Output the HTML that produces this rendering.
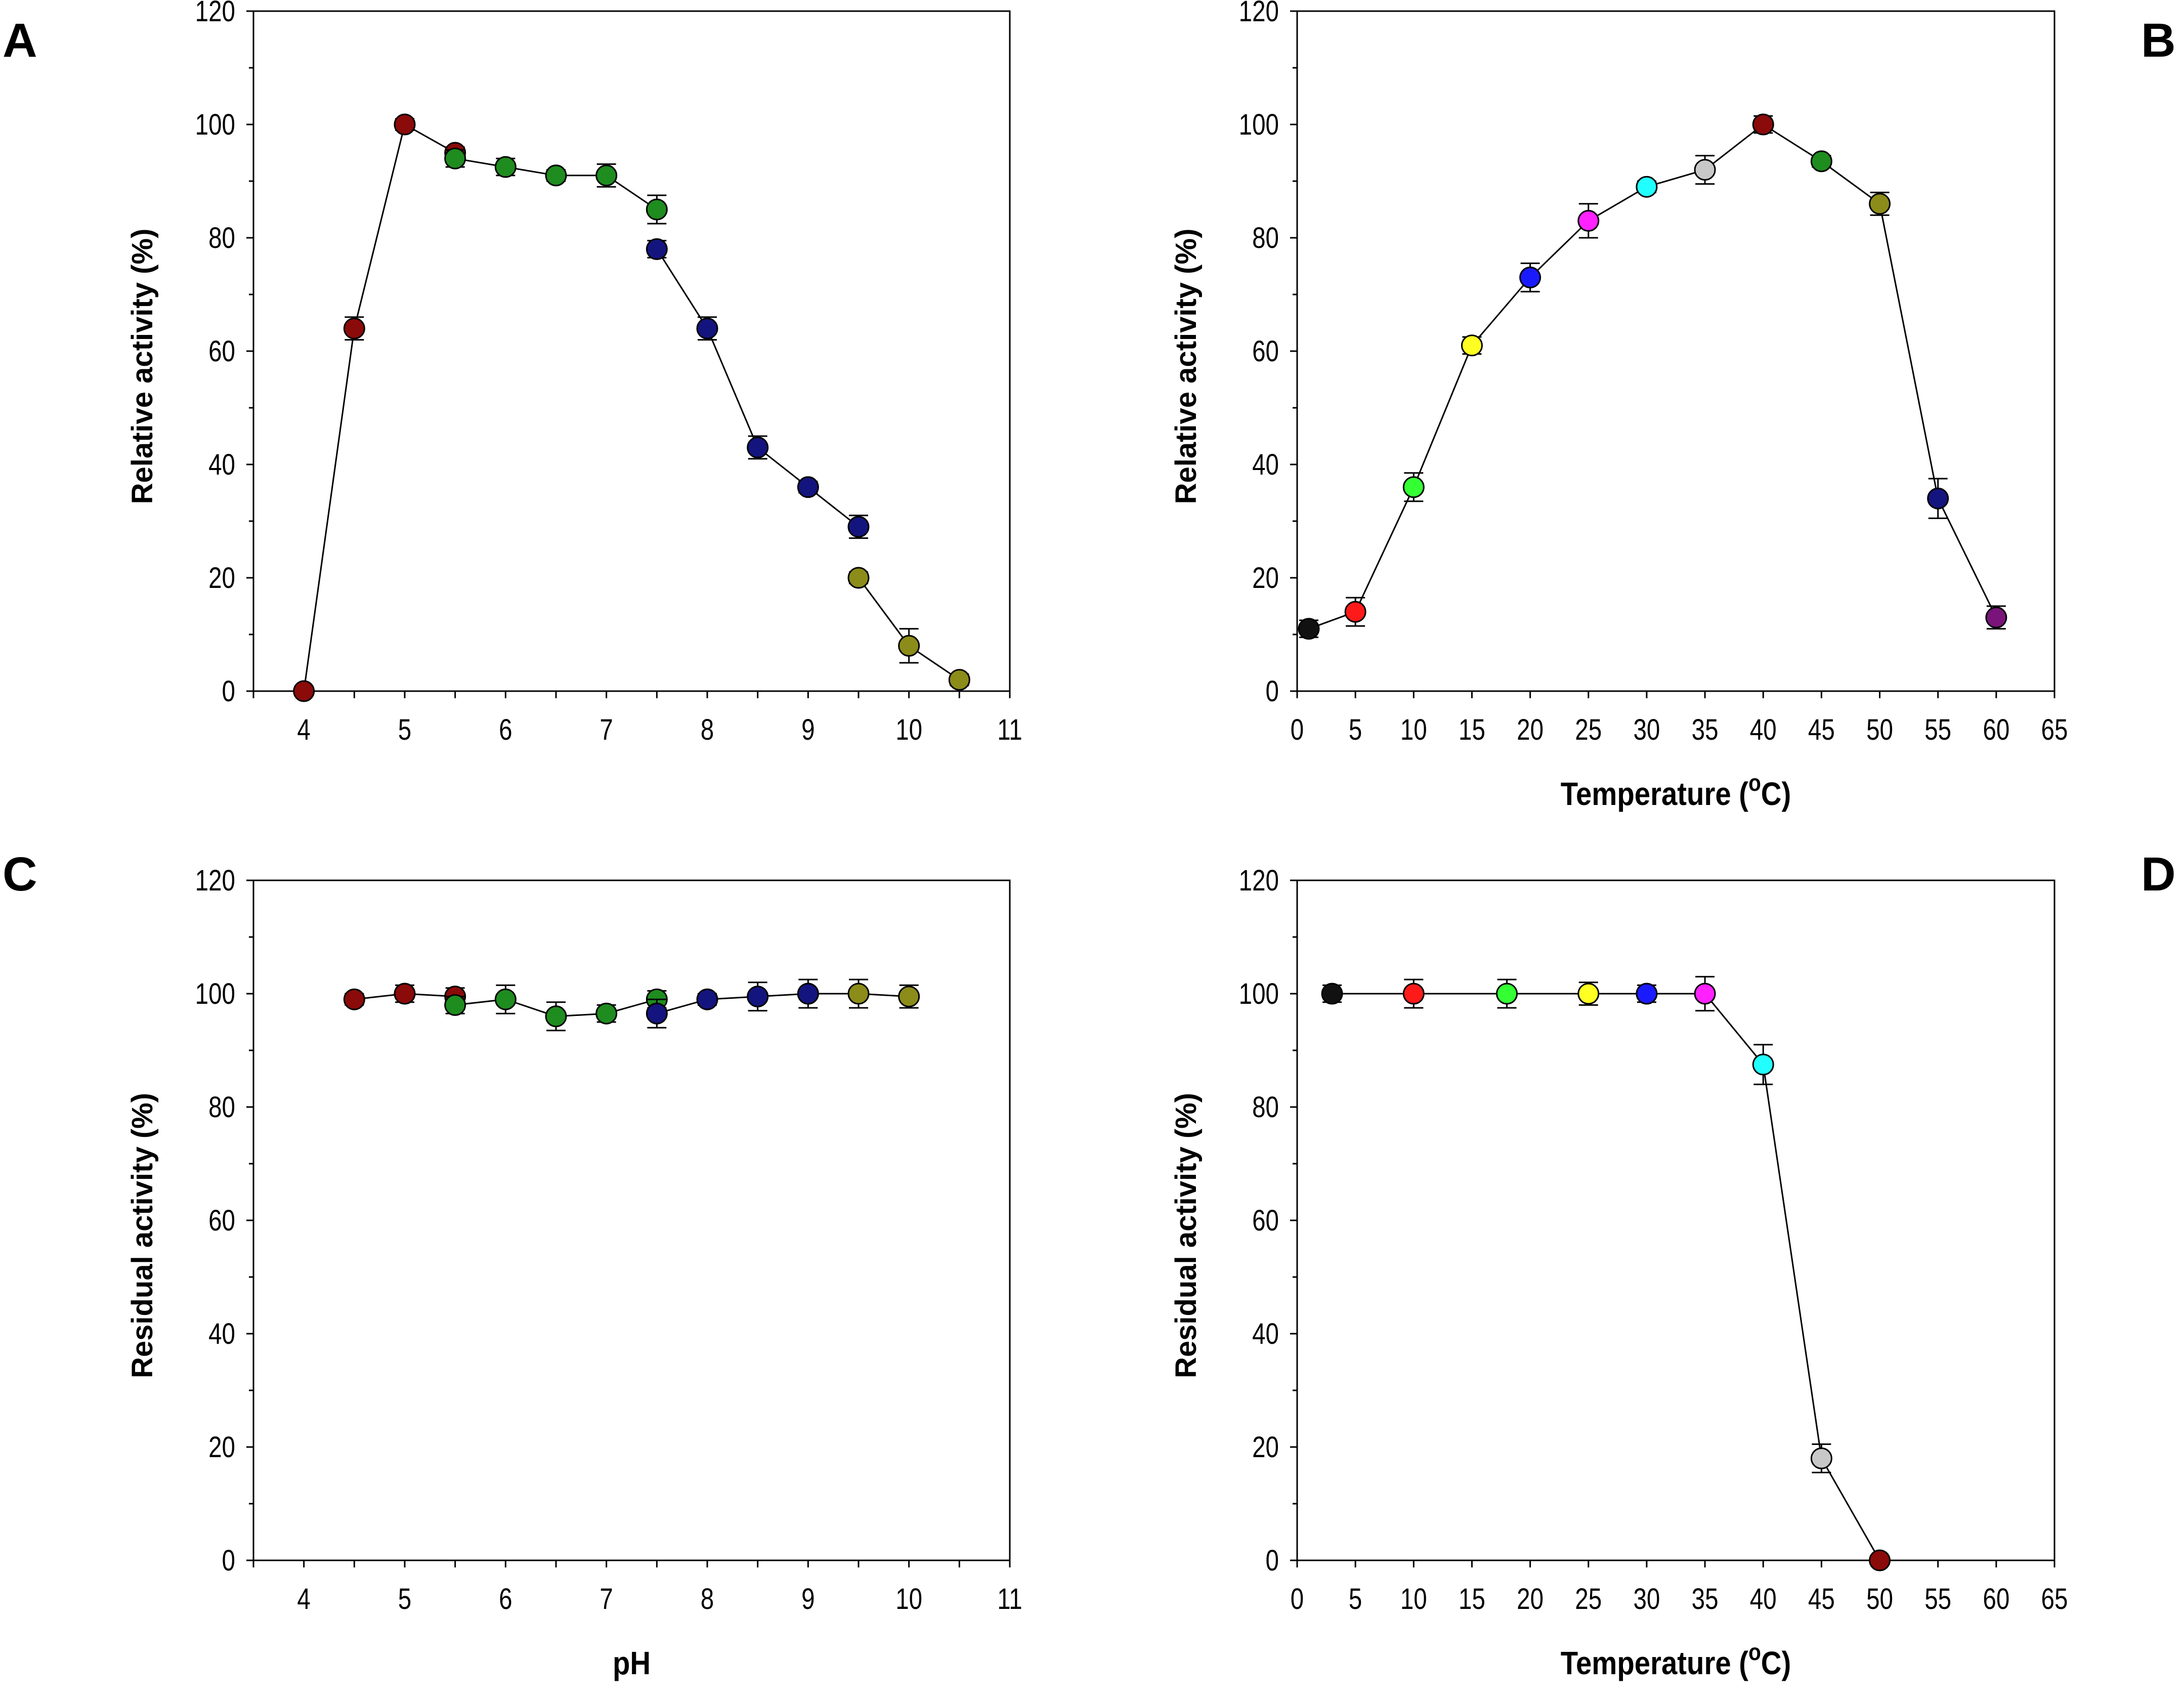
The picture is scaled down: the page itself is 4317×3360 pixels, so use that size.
<!DOCTYPE html>
<html><head><meta charset="utf-8">
<style>
html,body{margin:0;padding:0;background:#fff;}
svg{display:block;}
text{font-family:"Liberation Sans",Arial,sans-serif;fill:#000;}
</style></head>
<body>
<svg id="fig" width="4317" height="3360" viewBox="0 0 4317 3360" xmlns="http://www.w3.org/2000/svg"></svg>
<script>
// ---------- Panel A data (pH activity) ----------
const aRedX=[4,4.5,5,5.5];           const aRedY=[0,64,100,95];      const aRedE=[0,2,1,1];
const aGreenX=[5.5,6,6.5,7,7.5];     const aGreenY=[94,92.5,91,91,85]; const aGreenE=[1.5,1.5,1,2,2.5];
const aBlueX=[7.5,8,8.5,9,9.5];      const aBlueY=[78,64,43,36,29];  const aBlueE=[1.5,2,2,1,2];
const aOliveX=[9.5,10,10.5];         const aOliveY=[20,8,2];         const aOliveE=[1,3,1];
// ---------- Panel B data (temperature activity) ----------
const bX=[1,5,10,15,20,25,30,35,40,45,50,55,60];
const bY=[11,14,36,61,73,83,89,92,100,93.5,86,34,13];
const bE=[1.5,2.5,2.5,1.5,2.5,3,1,2.5,1.5,1,2,3.5,2];
const bColors=["#111111","#ff1a1a","#33ff33","#ffff22","#1a1aff","#ff22ff","#22ffff","#c8c8c8","#8b0a0a","#1e8c1e","#8c8c1a","#14147f","#7a147a"];
// ---------- Panel C data (pH stability) ----------
const cRedX=[4.5,5,5.5];            const cRedY=[99,100,99.5];       const cRedE=[1,1.5,1.5];
const cGreenX=[5.5,6,6.5,7,7.5];    const cGreenY=[98,99,96,96.5,99]; const cGreenE=[1.5,2.5,2.5,1.5,1.5];
const cBlueX=[7.5,8,8.5,9];         const cBlueY=[96.5,99,99.5,100];  const cBlueE=[2.5,1,2.5,2.5];
const cOliveX=[9,9.5,10];           const cOliveY=[100,100,99.5];     const cOliveE=[0,2.5,2];
// ---------- Panel D data (temperature stability) ----------
const dX=[3,10,18,25,30,35,40,45,50];
const dY=[100,100,100,100,100,100,87.5,18,0];
const dE=[1.5,2.5,2.5,2,1.5,3,3.5,2.5,0];
const dColors=["#111111","#ff1a1a","#33ff33","#ffff22","#1a1aff","#ff22ff","#22ffff","#c8c8c8","#8b0a0a"];
const yTicks=[0,20,40,60,80,100,120];
const pHTicks=[4,5,6,7,8,9,10,11];
const tTicks=[0,5,10,15,20,25,30,35,40,45,50,55,60,65];

const NS="http://www.w3.org/2000/svg";
const svg=document.getElementById('fig');
function mk(tag,attrs,parent){const e=document.createElementNS(NS,tag);for(const k in attrs)e.setAttribute(k,attrs[k]);(parent||svg).appendChild(e);return e;}

function panel(cfg){
  const g=mk('g',{});
  
  
  const sx=v=>cfg.x0+(v-cfg.xmin)/(cfg.xmax-cfg.xmin)*(cfg.x1-cfg.x0);
  const sy=v=>cfg.yb-(v-0)/120*(cfg.yb-cfg.yt);
  const frame=mk('rect',{x:cfg.x0,y:cfg.yt,width:cfg.x1-cfg.x0,height:cfg.yb-cfg.yt,fill:'none',stroke:'#000','stroke-width':3},g);
  
  
  for(let v=0;v<=120;v+=10){
    const major=v%20===0;
    mk('line',{x1:cfg.x0,x2:cfg.x0-(major?14:9),y1:sy(v),y2:sy(v),stroke:'#000','stroke-width':3},g);
  }
  yTicks.forEach(v=>{
    const tx=cfg.x0-36;
    const t=mk('text',{x:tx,y:sy(v)+20,'text-anchor':'end','font-size':58,transform:`translate(${tx},0) scale(0.82,1) translate(${-tx},0)`},g);
    t.textContent=v;
    
    
  });
  for(let v=cfg.xmin;v<=cfg.xmax+1e-9;v+=cfg.minor){
    mk('line',{x1:sx(v),x2:sx(v),y1:cfg.yb,y2:cfg.yb+14,stroke:'#000','stroke-width':3},g);
  }
  cfg.xt.forEach(v=>{
    const cx=sx(v);
    const t=mk('text',{x:cx,y:cfg.yb+96,'text-anchor':'middle','font-size':58,transform:`translate(${cx},0) scale(0.82,1) translate(${-cx},0)`},g);
    t.textContent=v;
    
    
  });
  const cyT=(cfg.yt+cfg.yb)/2+30, cxT=cfg.x0-200;
  const yt=mk('text',{x:cxT,y:cyT,'text-anchor':'middle','font-size':58,'font-weight':'bold',transform:`rotate(-90 ${cxT} ${cyT})`},g);
  yt.textContent=cfg.ytitle;
  
  
  if(cfg.xtitle){
    const xc=(cfg.x0+cfg.x1)/2;
    const xt=mk('text',{x:xc,y:cfg.yb+225,'text-anchor':'middle','font-size':64,'font-weight':'bold',transform:`translate(${xc},0) scale(0.88,1) translate(${-xc},0)`},g);
    if(cfg.xtitle==='T'){
      xt.appendChild(document.createTextNode('Temperature ('));
      const s=mk('tspan',{dy:-28,'font-size':46},xt);s.textContent='o';
      const s2=mk('tspan',{dy:28},xt);s2.textContent='C)';
    } else xt.textContent=cfg.xtitle;
    
    
  }
  const L=mk('text',{x:cfg.lx,y:cfg.ly,'font-size':95,'font-weight':'bold'},g);
  L.textContent=cfg.letter;
  
  
  return {g,sx,sy};
}

function series(p,xs,ys,es,colors,name){
  const pts=xs.map((x,i)=>p.sx(x)+','+p.sy(ys[i])).join(' ');
  const pl=mk('polyline',{points:pts,fill:'none',stroke:'#000','stroke-width':3},p.g);
  
  
  xs.forEach((x,i)=>{
    const cx=p.sx(x), y=p.sy(ys[i]);
    if(es[i]>0){
      const ylo=p.sy(ys[i]-es[i]), yhi=p.sy(ys[i]+es[i]);
      const eg=mk('g',{stroke:'#000','stroke-width':3},p.g);
      
      
      mk('line',{x1:cx,x2:cx,y1:ylo,y2:yhi},eg);
      mk('line',{x1:cx-19,x2:cx+19,y1:ylo,y2:ylo},eg);
      mk('line',{x1:cx-19,x2:cx+19,y1:yhi,y2:yhi},eg);
    }
    const c=mk('circle',{cx:cx,cy:y,r:20,fill:Array.isArray(colors)?colors[i]:colors,stroke:'#000','stroke-width':3},p.g);
    
    
  });
}

const RED="#8b0a0a",GREEN="#1e8c1e",BLUE="#14147f",OLIVE="#8c8c1a";
const A=panel({name:'panel-a-ph-activity',x0:501,x1:1996,yt:22,yb:1366,xmin:3.5,xmax:11,minor:0.5,xt:pHTicks,ytitle:'Relative activity (%)',xtitle:null,letter:'A',lx:5,ly:112});
series(A,aRedX,aRedY,aRedE,RED,'red-series');
series(A,aGreenX,aGreenY,aGreenE,GREEN,'green-series');
series(A,aBlueX,aBlueY,aBlueE,BLUE,'blue-series');
series(A,aOliveX,aOliveY,aOliveE,OLIVE,'olive-series');

const B=panel({name:'panel-b-temperature-activity',x0:2564,x1:4061,yt:22,yb:1366,xmin:0,xmax:65,minor:5,xt:tTicks,ytitle:'Relative activity (%)',xtitle:'T',letter:'B',lx:4232,ly:112});
series(B,bX,bY,bE,bColors,'temperature-series');

const C=panel({name:'panel-c-ph-stability',x0:501,x1:1996,yt:1740,yb:3084,xmin:3.5,xmax:11,minor:0.5,xt:pHTicks,ytitle:'Residual activity (%)',xtitle:'pH',letter:'C',lx:5,ly:1760});
series(C,cOliveX,cOliveY,cOliveE,OLIVE,'olive-series');
series(C,cRedX,cRedY,cRedE,RED,'red-series');
series(C,cGreenX,cGreenY,cGreenE,GREEN,'green-series');
series(C,cBlueX,cBlueY,cBlueE,BLUE,'blue-series');

const D=panel({name:'panel-d-temperature-stability',x0:2564,x1:4061,yt:1740,yb:3084,xmin:0,xmax:65,minor:5,xt:tTicks,ytitle:'Residual activity (%)',xtitle:'T',letter:'D',lx:4232,ly:1760});
series(D,dX,dY,dE,dColors,'temperature-series');
</script>
</body></html>
